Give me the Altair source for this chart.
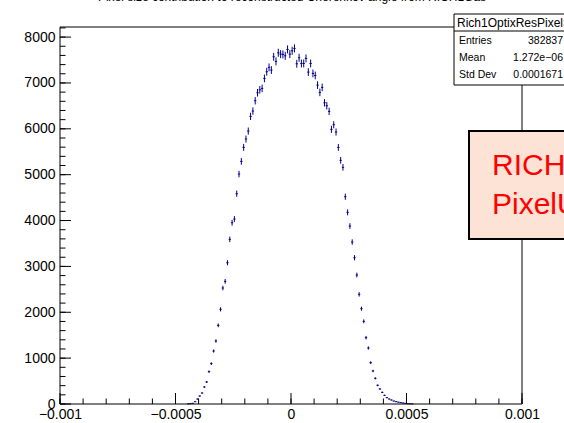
import json
import math
import altair as alt
import pandas as pd

# ---------------- data ----------------
bin_width = 1e-5
first_center = -0.000445
counts = [
    3, 8, 15, 50, 109, 174, 240, 370, 480, 705,
    880, 1155, 1373, 1715, 2064, 2529, 2674, 3080, 3590, 3952,
    4033, 4585, 5014, 5290, 5595, 5777, 5951, 6271, 6387, 6612,
    6786, 6851, 6881, 7099, 7244, 7340, 7281, 7571, 7470, 7658,
    7629, 7622, 7592, 7731, 7629, 7701, 7753, 7418, 7549, 7425,
    7425, 7535, 7237, 7425, 7208, 7164, 6953, 6794, 6903, 6568,
    6503, 6380, 5988, 6089, 5930, 5595, 5312, 5160, 4520, 4179,
    3880, 3531, 3189, 2812, 2391, 2078, 1802, 1446, 1221, 901,
    720, 560, 407, 327, 254, 189, 138, 109, 87, 65,
    50, 40, 30, 22, 15, 8, 4, 2,
]
centers = [round(first_center + i * bin_width, 7) for i in range(len(counts))]

x_tick_values = [-0.001, -0.0005, 0, 0.0005, 0.001]
x_tick_labels = ["\u22120.001", "\u22120.0005", "0", "0.0005", "0.001"]
x_minor_ticks = [round(-0.001 + 0.0001 * i, 5) for i in range(21)]
y_tick_values = [0, 1000, 2000, 3000, 4000, 5000, 6000, 7000, 8000]
y_tick_labels = ["0", "1000", "2000", "3000", "4000", "5000", "6000", "7000", "8000"]
y_minor_ticks = [200 * i for i in range(42)]

title_text = "Pixel size contribution to reconstructed Cherenkov angle from RICH1Gas"
stats_name = "Rich1OptixResPixelSize"
stats_labels = ["Entries", "Mean", "Std Dev"]
stats_values = ["382837", "1.272e\u221206", "0.0001671"]
box_lines = ["RICH1 Optix", "PixelUncertainty"]

x_domain = [-0.001, 0.001]
y_domain = [0, 8220]

# ---------------- layout ----------------
W, H = 462, 377
PAD = {"left": 60, "top": 27, "right": 564 - 60 - W, "bottom": 423 - 27 - H}
FONT = "Liberation Sans"
COL = "#00008b"
ROW_Y = [13.5, 31, 48]

df = pd.DataFrame({"c": centers, "n": counts})
df["lo"] = df["c"] - bin_width / 2
df["hi"] = df["c"] + bin_width / 2
df["elo"] = [n - math.sqrt(n) for n in counts]
df["ehi"] = [n + math.sqrt(n) for n in counts]

xscale = alt.Scale(domain=x_domain, nice=False, zero=False)
yscale = alt.Scale(domain=y_domain, nice=False, zero=False)

x_expr = "{}[indexof({}, datum.value)]".format(json.dumps(x_tick_labels), json.dumps(x_tick_values))
y_expr = "{}[indexof({}, datum.value)]".format(json.dumps(y_tick_labels), json.dumps(y_tick_values))

xaxis = alt.Axis(values=x_tick_values, labelExpr=x_expr, ticks=False, tickSize=0, domain=False,
                 grid=False, title="", labelFontSize=14, labelFont=FONT, labelColor="black",
                 labelPadding=3, labelFlush=False, labelOverlap=False)
yaxis = alt.Axis(values=y_tick_values, labelExpr=y_expr, ticks=False, tickSize=0, domain=False,
                 grid=False, title="", labelFontSize=14, labelFont=FONT, labelColor="black",
                 labelPadding=5, labelOverlap=False)


def X(f):
    return alt.X(f, type="quantitative", scale=xscale, axis=xaxis)


def Y(f):
    return alt.Y(f, type="quantitative", scale=yscale, axis=yaxis)


one = pd.DataFrame({"a": [0]})


def label(text, x, y, size, color="black", align="left", baseline="middle"):
    return alt.Chart(one).mark_text(text=text, font=FONT, fontSize=size, color=color,
                                    align=align, baseline=baseline).encode(
        x=alt.value(x), y=alt.value(y))


hbars = alt.Chart(df).mark_rule(color=COL, strokeWidth=1).encode(
    x=X("lo"), x2="hi", y=Y("n"))
vbars = alt.Chart(df).mark_rule(color=COL, strokeWidth=1).encode(
    x=X("c"), y=Y("elo"), y2="ehi")

xmaj = pd.DataFrame({"v": x_tick_values})
xmin = pd.DataFrame({"v": x_minor_ticks})
ymaj = pd.DataFrame({"v": y_tick_values})
ymin = pd.DataFrame({"v": y_minor_ticks})

xmaj_t = alt.Chart(xmaj).mark_rule(color="black", strokeWidth=1).encode(
    x=X("v"), y=alt.value(H), y2=alt.value(H - 11))
xmin_t = alt.Chart(xmin).mark_rule(color="black", strokeWidth=1).encode(
    x=X("v"), y=alt.value(H), y2=alt.value(H - 5.5))
ymaj_t = alt.Chart(ymaj).mark_rule(color="black", strokeWidth=1).encode(
    y=Y("v"), x=alt.value(0), x2=alt.value(11))
ymin_t = alt.Chart(ymin).mark_rule(color="black", strokeWidth=1).encode(
    y=Y("v"), x=alt.value(0), x2=alt.value(5.5))

frame = alt.Chart(one).mark_rect(fillOpacity=0, stroke="black", strokeWidth=1).encode(
    x=alt.value(0), x2=alt.value(W), y=alt.value(0), y2=alt.value(H))

title = label(title_text, 232, -26, 12, align="center", baseline="alphabetic")

# stats box
sb_left = 394
stats_rect = alt.Chart(one).mark_rect(fill="white", stroke="black", strokeWidth=1).encode(
    x=alt.value(sb_left), x2=alt.value(W + 80), y=alt.value(-13), y2=alt.value(58))
stats_sep = alt.Chart(one).mark_rule(color="black", strokeWidth=1).encode(
    x=alt.value(sb_left), x2=alt.value(W + 80), y=alt.value(4))
stats_head = label(stats_name, sb_left + 3, -4.5, 12)
stats_layers = []
for i in range(len(stats_labels)):
    stats_layers.append(label(stats_labels[i], sb_left + 5, ROW_Y[i], 10.5))
    stats_layers.append(label(stats_values[i], 503, ROW_Y[i], 10.5, align="right"))

# red text box
rb = alt.Chart(one).mark_rect(fill="#fde2d6", stroke="black", strokeWidth=2).encode(
    x=alt.value(409), x2=alt.value(W + 80), y=alt.value(104), y2=alt.value(212))
rb1 = label(box_lines[0], 432, 148, 30, color="#ff0000", baseline="alphabetic")
rb2 = label(box_lines[1], 432, 187, 30, color="#ff0000", baseline="alphabetic")

chart = alt.layer(
    hbars, vbars, xmaj_t, xmin_t, ymaj_t, ymin_t, frame, title,
    stats_rect, stats_sep, stats_head, *stats_layers, rb, rb1, rb2,
).properties(
    width=W, height=H, padding=PAD, autosize=alt.AutoSizeParams(type="none"),
    background="white",
).configure_view(strokeWidth=0)

chart.save("out.html", embed_options={"renderer": "svg", "actions": False})
